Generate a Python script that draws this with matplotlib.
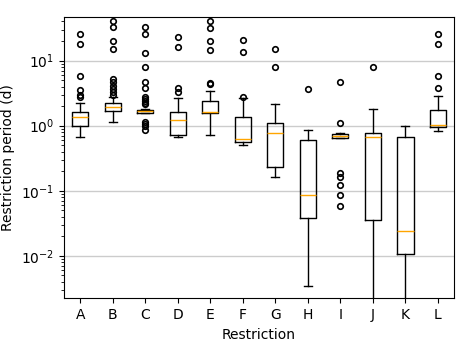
import matplotlib
matplotlib.use("Agg")
import matplotlib.pyplot as plt

# box statistics (days)
labels = ["A", "B", "C", "D", "E", "F", "G", "H", "I", "J", "K", "L"]
medians = [1.34, 1.94, 1.66, 1.21, 1.62, 0.63, 0.78, 0.086, 0.693, 0.662, 0.024, 1.04]
q1 = [1.0, 1.70, 1.58, 0.72, 1.55, 0.56, 0.234, 0.0384, 0.654, 0.0358, 0.0105, 0.954]
q3 = [1.64, 2.23, 1.76, 1.62, 2.40, 1.36, 1.10, 0.594, 0.744, 0.762, 0.662, 1.76]
whis_lo = [0.68, 1.13, 1.55, 0.66, 0.73, 0.50, 0.162, 0.00345, 0.638, 0.001, 0.0005, 0.84]
whis_hi = [2.26, 2.76, 1.80, 2.70, 3.37, 2.63, 2.18, 0.868, 0.78, 1.80, 1.0, 2.90]
fliers = [
    [25.7, 18.3, 5.8, 3.5, 2.96, 2.76],
    [40.7, 32.6, 20.1, 15.1, 5.16, 4.64, 4.12, 3.66, 3.26, 2.96],
    [33.3, 25.4, 13.0, 8.1, 4.75, 3.75, 2.79, 2.57, 2.4, 2.23, 2.13, 1.13, 1.06, 1.0, 0.85],
    [23.4, 16.2, 3.84, 3.33],
    [40.7, 32.2, 19.8, 14.8, 4.59, 4.38],
    [20.6, 13.4, 2.72],
    [15.3, 8.0],
    [3.71],
    [4.75, 1.09, 0.185, 0.165, 0.123, 0.086, 0.058],
    [8.0],
    [],
    [26.0, 18.0, 5.8, 3.75],
]

stats = []
for i, lab in enumerate(labels):
    stats.append(dict(label=lab, med=medians[i], q1=q1[i], q3=q3[i],
                      whislo=whis_lo[i], whishi=whis_hi[i], fliers=fliers[i]))

fig, ax = plt.subplots(figsize=(4.63, 3.45), dpi=100)
fig.subplots_adjust(left=0.138, right=0.981, top=0.951, bottom=0.135)

ax.bxp(stats, showfliers=True,
       medianprops=dict(color="orange"),
       flierprops=dict(marker="o", markersize=4, markeredgewidth=1.2))
ax.set_yscale("log")
ax.set_ylim(0.00221, 47)
ax.set_xlim(0.5, 12.5)
ax.yaxis.grid(True, which="major", color="#cccccc", linewidth=1.0)
ax.set_axisbelow(True)
ax.set_xlabel("Restriction")
ax.set_ylabel("Restriction period (d)")

fig.savefig("out.png", dpi=100)
